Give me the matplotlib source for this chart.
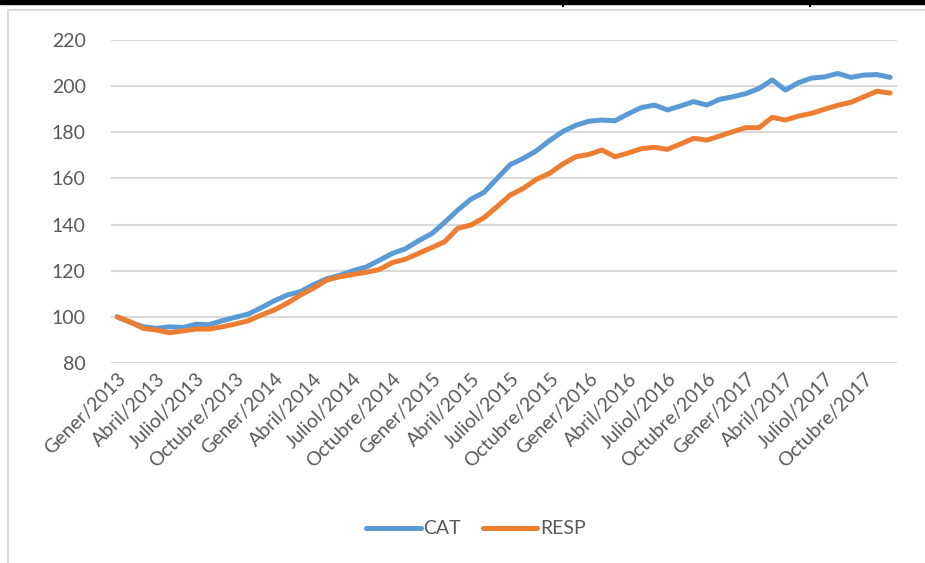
import matplotlib
matplotlib.use("Agg")
import matplotlib.pyplot as plt
from matplotlib.patches import Rectangle
from matplotlib.lines import Line2D

# Month names (Catalan) and years
months = ["Gener", "Febrer", "Març", "Abril", "Maig", "Juny",
          "Juliol", "Agost", "Setembre", "Octubre", "Novembre", "Desembre"]
years = [2013, 2014, 2015, 2016, 2017]

# Index values, base Gener/2013 = 100
cat = [100, 97.6, 95.7, 95.0, 95.7, 95.4, 96.8, 96.6, 98.3, 99.8, 101.2, 104.0,
       107.0, 109.5, 111.0, 114.0, 116.5, 118.0, 120.0, 121.6, 124.5, 127.5, 129.5, 133.0,
       136.0, 141.0, 146.3, 151.0, 154.0, 160.0, 166.0, 168.7, 172.0, 176.4, 180.3, 183.0,
       184.8, 185.3, 185.0, 188.0, 190.7, 191.8, 189.7, 191.4, 193.3, 191.8, 194.3, 195.4,
       196.8, 199.0, 202.7, 198.3, 201.5, 203.5, 204.0, 205.5, 203.8, 204.8, 205.0, 203.8]

resp = [100, 97.8, 95.0, 94.3, 93.1, 93.9, 94.7, 94.7, 95.7, 96.9, 98.3, 100.8,
        103.0, 106.0, 109.5, 112.5, 116.0, 117.4, 118.4, 119.3, 120.5, 123.5, 125.0, 127.5,
        130.0, 132.6, 138.4, 139.8, 143.0, 147.8, 152.8, 155.7, 159.6, 162.2, 166.2, 169.4,
        170.4, 172.3, 169.4, 171.0, 172.9, 173.5, 172.6, 174.9, 177.4, 176.6, 178.4, 180.3,
        182.0, 182.0, 186.5, 185.3, 187.0, 188.2, 190.0, 191.7, 193.0, 195.4, 197.8, 197.0]

labels = [m + "/" + str(y) for y in years for m in months]
yticks = [80, 100, 120, 140, 160, 180, 200, 220]

plt.rcParams['font.family'] = ['Lato', 'DejaVu Sans']
grey_txt = "#595959"
grid_col = "#d9d9d9"

W, H = 925, 563
fig = plt.figure(figsize=(W / 100, H / 100), dpi=100)
ax = fig.add_axes([110.7 / W, 1 - 363 / H, 786 / W, 323 / H])

x = list(range(len(labels)))
ax.plot(x, cat, color="#5B9BD5", lw=3.6, solid_capstyle="round",
        solid_joinstyle="round", label="CAT", zorder=3)
ax.plot(x, resp, color="#ED7D31", lw=3.6, solid_capstyle="round",
        solid_joinstyle="round", label="RESP", zorder=3)

ax.set_xlim(-0.5, len(labels) - 0.5)
ax.set_ylim(80, 220)
ax.set_yticks(yticks)
ax.set_xticks(x[::3])
ax.set_xticklabels(labels[::3], rotation=45, ha="right", rotation_mode="anchor")
ax.tick_params(axis="both", length=0, labelsize=14, colors=grey_txt)
ax.tick_params(axis="y", pad=18)
ax.tick_params(axis="x", pad=5)
ax.grid(axis="y", color=grid_col, lw=1.5)
ax.set_axisbelow(True)
for s in ax.spines.values():
    s.set_visible(False)

# legend sits centred on the chart frame, a bit right of the figure centre
leg = fig.legend(loc="center", bbox_to_anchor=(476 / W, 1 - 529 / H), ncol=2,
                 frameon=False, fontsize=14, handlelength=2.8,
                 handletextpad=0.15, columnspacing=1.1)
for t in leg.get_texts():
    t.set_color(grey_txt)

# chart frame and the page border above it
fig.add_artist(Rectangle((8 / W, -0.05), 1.1, 1.05 - 9.5 / H, fill=False,
                         ec=grid_col, lw=1.5, transform=fig.transFigure))
fig.add_artist(Rectangle((0, 1 - 4 / H), 1, 4 / H, color="black",
                         transform=fig.transFigure))
for xm in [563, 810]:
    fig.add_artist(Line2D([xm / W, xm / W], [1, 1 - 6 / H], color="black",
                          lw=1.5, transform=fig.transFigure))

fig.savefig("out.png", dpi=100)
